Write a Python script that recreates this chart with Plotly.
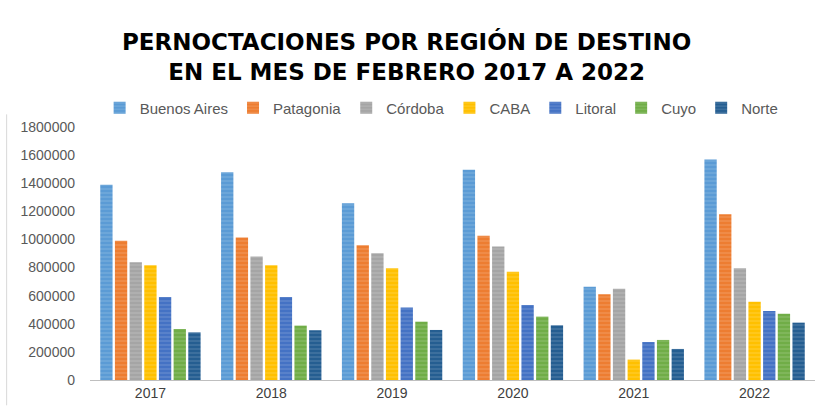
import plotly.graph_objects as go

years = ["2017", "2018", "2019", "2020", "2021", "2022"]
buenos_aires = [1390000, 1478000, 1258000, 1495000, 664000, 1568000]
patagonia = [991000, 1013000, 959000, 1027000, 610000, 1179000]
cordoba = [838000, 878000, 902000, 949000, 650000, 795000]
caba = [816000, 816000, 795000, 771000, 145000, 557000]
litoral = [591000, 591000, 515000, 534000, 270000, 491000]
cuyo = [363000, 387000, 415000, 451000, 285000, 472000]
norte = [339000, 354000, 356000, 389000, 221000, 408000]

series = [
    ("Buenos Aires", buenos_aires, "#5B9BD5"),
    ("Patagonia", patagonia, "#ED7D31"),
    ("Córdoba", cordoba, "#A5A5A5"),
    ("CABA", caba, "#FFC000"),
    ("Litoral", litoral, "#4472C4"),
    ("Cuyo", cuyo, "#70AD47"),
    ("Norte", norte, "#255E91"),
]
y_ticks = [0, 200000, 400000, 600000, 800000, 1000000, 1200000, 1400000, 1600000, 1800000]

fig = go.Figure()
for name, vals, col in series:
    fig.add_trace(go.Bar(
        x=years, y=vals, name=name,
        marker=dict(color=col, line=dict(width=0),
                    pattern=dict(shape="-", fgcolor="rgba(255,255,255,0.35)",
                                 size=4, solidity=0.3, fillmode="overlay")),
    ))

H_PLOT = 407 - 127 - 27

fig.update_layout(
    width=826, height=407,
    margin=dict(l=90, r=11, t=127, b=27, autoexpand=False),
    paper_bgcolor="white", plot_bgcolor="white",
    barmode="group", bargap=0.15, bargroupgap=0.16,
    font=dict(family="Liberation Sans, Arial", color="#595959"),
    showlegend=True,
    legend=dict(orientation="h", x=0.485, xanchor="center", y=(380 - 108) / H_PLOT,
                yanchor="middle", font=dict(size=15, color="#595959"),
                traceorder="normal", itemwidth=30),
    xaxis=dict(showline=True, linecolor="#BFBFBF", linewidth=1, ticks="",
               tickfont=dict(size=14, color="#404040"), showgrid=False),
    yaxis=dict(range=[0, 1800000], tickvals=y_ticks, ticktext=[str(v) for v in y_ticks],
               showgrid=False, zeroline=False, showline=False,
               tickfont=dict(size=14, color="#595959"), ticklabelstandoff=14),
)

fig.add_annotation(
    text="<b>PERNOCTACIONES POR REGIÓN DE DESTINO<br>EN EL MES DE FEBRERO 2017 A 2022</b>",
    x=0.437, xref="paper", y=(380 - 56) / H_PLOT, yref="paper", yanchor="middle",
    showarrow=False, font=dict(family="DejaVu Sans", size=23, color="#000000"),
    align="center",
)
fig.add_shape(type="line", xref="paper", yref="paper", x0=-0.115, x1=-0.115, y0=-0.1, y1=1.05,
              line=dict(color="#D9D9D9", width=1))

fig.write_html("out.html", config={"displayModeBar": False},
               post_script="document.body.style.margin='0';")
